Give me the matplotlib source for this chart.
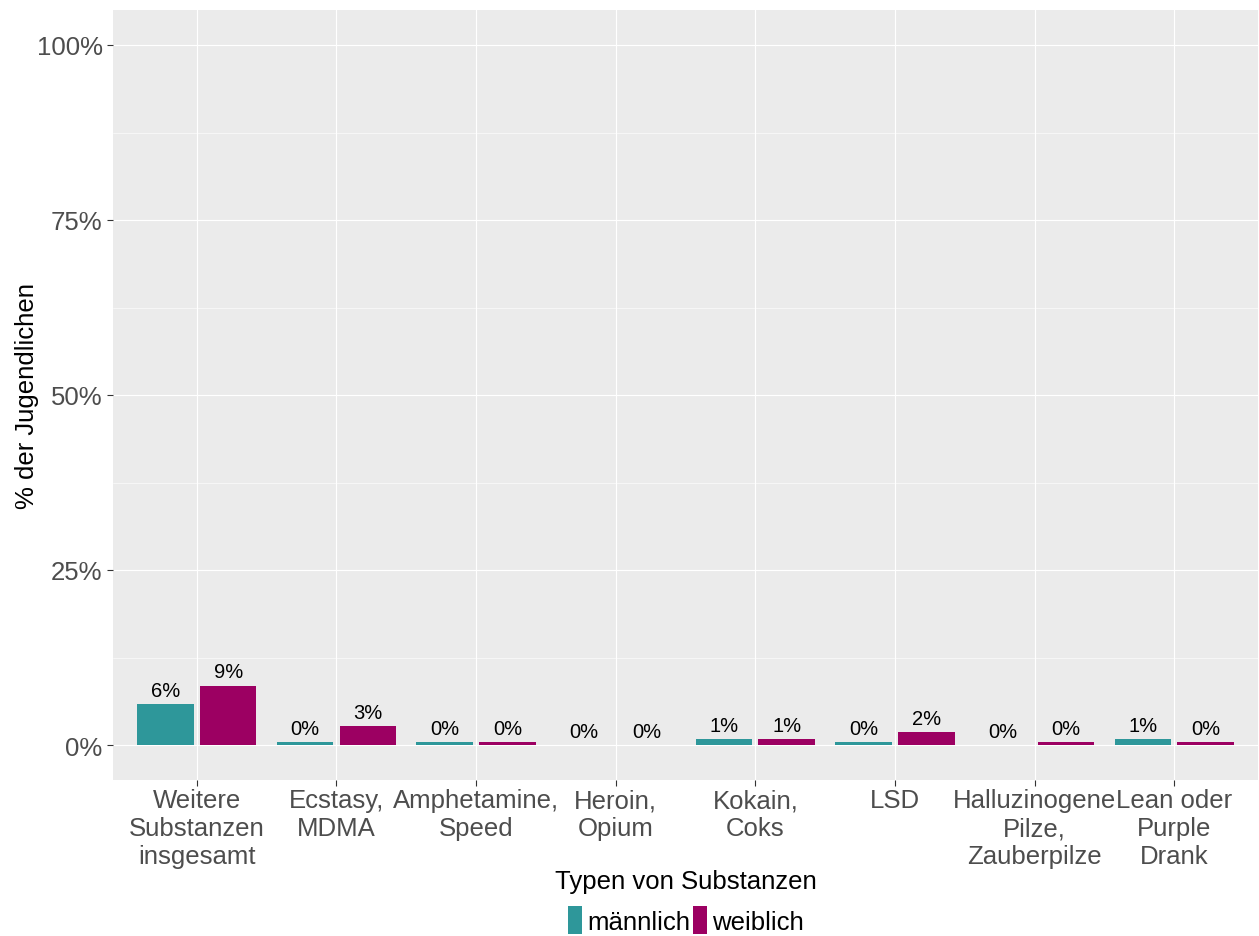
import numpy as np
import matplotlib.pyplot as plt
from matplotlib.patches import Patch

plt.rcParams['font.family'] = ['Liberation Sans', 'DejaVu Sans']

kategorien = ['Weitere\nSubstanzen\ninsgesamt', 'Ecstasy,\nMDMA', 'Amphetamine,\nSpeed',
              'Heroin,\nOpium', 'Kokain,\nCoks', 'LSD', 'Halluzinogene\nPilze,\nZauberpilze',
              'Lean oder\nPurple\nDrank']
maennlich = [5.9, 0.4, 0.4, 0.0, 0.9, 0.4, 0.0, 0.9]
weiblich = [8.5, 2.7, 0.4, 0.0, 0.9, 1.8, 0.4, 0.4]
y_ticks = [0, 25, 50, 75, 100]

farbe_m = '#2E979A'
farbe_w = '#9C0062'

fig = plt.figure(figsize=(12.59, 9.37), dpi=100)
ax = fig.add_axes([113/1259, 1-781/937, 1145/1259, 770/937])
ax.set_facecolor('#EBEBEB')

x = np.arange(1, len(kategorien)+1)
breite = 0.405
for werte, farbe, off in [(maennlich, farbe_m, -0.225), (weiblich, farbe_w, 0.225)]:
    ax.bar(x+off, werte, width=breite, color=farbe, edgecolor='none', zorder=3)
    for xi, v in zip(x+off, werte):
        ax.annotate('%d%%' % int(v + 0.5), (xi, v), xytext=(0, 3), textcoords='offset points',
                    ha='center', va='bottom', fontsize=14.5, color='black', zorder=4)

ax.set_xlim(0.4, 8.6)
ax.set_ylim(-5, 105)
ax.set_yticks(y_ticks)
ax.set_yticklabels(['%d%%' % t for t in y_ticks])
ax.set_yticks([12.5, 37.5, 62.5, 87.5], minor=True)
ax.set_xticks(x)
ax.set_xticklabels(kategorien)
ax.grid(which='major', color='white', linewidth=0.8, zorder=0)
ax.grid(which='minor', axis='y', color='white', linewidth=0.4, zorder=0)
ax.set_axisbelow(True)
for s in ax.spines.values():
    s.set_visible(False)
ax.tick_params(axis='both', which='major', labelsize=18.5, labelcolor='#4D4D4D',
               color='#333333', length=4, width=0.8)
ax.tick_params(axis='y', which='minor', length=0)
ax.tick_params(axis='x', pad=2)

ax.set_xlabel('Typen von Substanzen', fontsize=18.5, labelpad=1)
fig.text(27/1259, 1-396/937, '% der Jugendlichen', rotation=90, fontsize=18.5,
         ha='center', va='center')

griffe = [Patch(facecolor=farbe_m, label='männlich'), Patch(facecolor=farbe_w, label='weiblich')]
fig.legend(handles=griffe, loc='center', bbox_to_anchor=(686/1259, 1-921/937), ncol=2,
           frameon=False, fontsize=18.5, handlelength=0.55, handleheight=1.3,
           handletextpad=0.2, columnspacing=0.1)

fig.savefig('out.png', dpi=100)
